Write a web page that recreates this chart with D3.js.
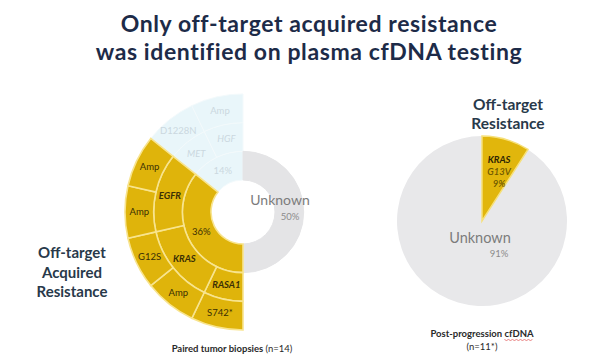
<!DOCTYPE html>
<html>
<head>
<meta charset="utf-8">
<script src="https://cdn.jsdelivr.net/npm/d3@7"></script>
<style>
  body { margin: 0; background: #fff; }
  svg { display: block; font-family: Lato, 'Open Sans', sans-serif; }
</style>
</head>
<body>
<svg id="chart" width="606" height="362"></svg>
<script>
const titleLines = ['Only off-target acquired resistance', 'was identified on plasma cfDNA testing'];

// paired tumor biopsies, n = 14
const groups = ['Unknown', 'Off-target', 'Other'];
const groupCounts = [7, 5, 2];
const groupLabels = ['50%', '36%', '14%'];

const genes = ['RASA1', 'KRAS', 'EGFR', 'MET', 'HGF'];
const geneGroups = ['Off-target', 'Off-target', 'Off-target', 'Other', 'Other'];

const alterations = ['S742*', 'Amp', 'G12S', 'Amp', 'Amp', 'D1228N', 'Amp'];
const alterationGenes = ['RASA1', 'KRAS', 'KRAS', 'EGFR', 'EGFR', 'MET', 'HGF'];
const alterationCounts = [1, 1, 1, 1, 1, 1, 1];

// post-progression cfDNA, n = 11
const cfLabels = ['KRAS G13V', 'Unknown'];
const cfCounts = [1, 10];
const cfPercents = ['9%', '91%'];

const svg = d3.select('#chart');

const groupColor = d3.scaleOrdinal()
  .domain(groups)
  .range(['#e4e4e6', '#dfb40b', '#e9f6fa']);
const strokeColor = d3.scaleOrdinal()
  .domain(groups)
  .range(['#e4e4e6', '#f8e48e', '#f3fafc']);
const textColor = d3.scaleOrdinal()
  .domain(groups)
  .range(['#808080', '#3a2f05', '#cbd8df']);

// title
svg.append('g')
  .selectAll('text')
  .data(titleLines)
  .enter()
  .append('text')
  .attr('x', 309)
  .attr('y', (d, i) => 32 + i * 27.6)
  .attr('text-anchor', 'middle')
  .style('font-size', '23px')
  .style('font-weight', '700')
  .style('letter-spacing', '0.6px')
  .style('fill', '#1d2b48')
  .text((d) => d);

// ---- sunburst (tumor biopsies)
const cx = 243, cy = 212;

const treeData = {
  name: 'root',
  children: groups.map((gname, gi) => {
    const kids = genes
      .filter((g, i) => geneGroups[i] === gname)
      .map((gene) => ({
        name: gene,
        group: gname,
        children: alterations
          .map((a, i) => ({ name: a, gene: alterationGenes[i], count: alterationCounts[i], group: gname }))
          .filter((a) => a.gene === gene)
      }));
    const node = { name: gname, group: gname, label: groupLabels[gi] };
    if (kids.length) node.children = kids;
    else node.count = groupCounts[gi];
    return node;
  })
};

const root = d3.hierarchy(treeData).sum((d) => (d.children ? 0 : d.count));
d3.partition().size([2 * Math.PI, 4])(root);

const rScale = d3.scaleLinear().domain([1, 4]).range([32, 118]);

const arc = d3.arc()
  .startAngle((d) => d.x0)
  .endAngle((d) => d.x1)
  .innerRadius((d) => rScale(d.y0))
  .outerRadius((d) => rScale(d.y1));

const sb = svg.append('g').attr('transform', `translate(${cx},${cy})`);

const nodes = root.descendants().filter((d) => d.depth > 0);
// pale wedge first, then grey, then yellow on top so its borders sit clean
const order = { Other: 0, Unknown: 1, 'Off-target': 2 };
nodes.sort((a, b) => order[a.data.group] - order[b.data.group]);

sb.selectAll('path')
  .data(nodes)
  .enter()
  .append('path')
  .attr('d', arc)
  .style('fill', (d) => groupColor(d.data.group))
  .style('stroke', (d) => strokeColor(d.data.group))
  .style('stroke-width', (d) => (d.data.group === 'Off-target' ? 1.6 : 1));

const labelled = nodes.filter((d) => d.data.group !== 'Unknown');
sb.selectAll('text.seg')
  .data(labelled)
  .enter()
  .append('text')
  .attr('class', 'seg')
  .attr('transform', (d) => {
    const [x, y] = arc.centroid(d);
    return `translate(${x},${y})`;
  })
  .attr('dy', '0.35em')
  .attr('text-anchor', 'middle')
  .style('font-size', '9.5px')
  .style('font-weight', (d) => (d.depth === 2 && d.data.group === 'Off-target' ? 700 : 400))
  .style('font-style', (d) => (d.depth === 2 ? 'italic' : 'normal'))
  .style('fill', (d) => textColor(d.data.group))
  .text((d) => (d.depth === 1 ? d.data.label : d.data.name));

const unk = nodes.find((d) => d.data.group === 'Unknown');
sb.append('text')
  .attr('x', 37)
  .attr('y', -7)
  .attr('text-anchor', 'middle')
  .style('font-size', '14px')
  .style('fill', '#7c7c7c')
  .text(unk.data.name);
sb.append('text')
  .attr('x', 47)
  .attr('y', 7.5)
  .attr('text-anchor', 'middle')
  .style('font-size', '9.5px')
  .style('fill', '#8c8c8c')
  .text(unk.data.label);

svg.append('text')
  .attr('x', 72)
  .attr('text-anchor', 'middle')
  .style('font-size', '15px')
  .style('font-weight', '700')
  .style('fill', '#28394a')
  .selectAll('tspan')
  .data(['Off-target', 'Acquired', 'Resistance'])
  .enter()
  .append('tspan')
  .attr('x', 72)
  .attr('y', (d, i) => 258 + i * 19.5)
  .text((d) => d);

const cap1 = svg.append('text')
  .attr('x', 232)
  .attr('y', 352)
  .attr('text-anchor', 'middle')
  .style('font-size', '9.5px')
  .style('fill', '#2a2a2a');
cap1.append('tspan').style('font-weight', '700').text('Paired tumor biopsies ');
cap1.append('tspan').text('(n=14)');

// ---- pie (cfDNA)
const px = 482, py = 221, pr = 85;
const pieData = d3.pie().sort(null).value((d) => d.count)(
  cfLabels.map((l, i) => ({ label: l, count: cfCounts[i], pct: cfPercents[i] }))
);
const pieArc = d3.arc().innerRadius(0).outerRadius(pr);
const pg = svg.append('g').attr('transform', `translate(${px},${py})`);

pg.selectAll('path')
  .data(pieData.slice().reverse())
  .enter()
  .append('path')
  .attr('d', pieArc)
  .style('fill', (d) => (d.index === 0 ? '#e1b60c' : '#e8e8ea'))
  .style('stroke', (d) => (d.index === 0 ? '#f6e07a' : '#e8e8ea'))
  .style('stroke-width', (d) => (d.index === 0 ? 1.5 : 0));

const wedge = pieData[0];
const [wx, wy] = d3.arc().innerRadius(0).outerRadius(100).centroid(wedge);
const wedgeLines = wedge.data.label.split(' ').concat([wedge.data.pct]);
pg.append('text')
  .attr('text-anchor', 'middle')
  .style('font-size', '9.5px')
  .style('font-style', 'italic')
  .selectAll('tspan')
  .data(wedgeLines)
  .enter()
  .append('tspan')
  .attr('x', wx + 3)
  .attr('y', (d, i) => wy - 14 + i * 12 + 3.5)
  .style('font-weight', (d, i) => (i === 0 ? 700 : 600))
  .style('fill', (d, i) => (i === 0 ? '#2e2503' : '#6e5800'))
  .text((d) => d);

const unkPie = pieData[1];
pg.append('text')
  .attr('x', -2)
  .attr('y', 22)
  .attr('text-anchor', 'middle')
  .style('font-size', '14.5px')
  .style('fill', '#7c7c7c')
  .text(unkPie.data.label);
pg.append('text')
  .attr('x', 17)
  .attr('y', 35.5)
  .attr('text-anchor', 'middle')
  .style('font-size', '9.5px')
  .style('fill', '#8c8c8c')
  .text(unkPie.data.pct);

svg.append('text')
  .attr('text-anchor', 'middle')
  .style('font-size', '15.5px')
  .style('font-weight', '700')
  .style('fill', '#28394a')
  .selectAll('tspan')
  .data(['Off-target', 'Resistance'])
  .enter()
  .append('tspan')
  .attr('x', 508)
  .attr('y', (d, i) => 110 + i * 19)
  .text((d) => d);

const cap2 = svg.append('text')
  .attr('text-anchor', 'middle')
  .style('font-size', '9.5px')
  .style('fill', '#2a2a2a');
cap2.append('tspan').attr('x', px).attr('y', 337).style('font-weight', '700').text('Post-progression cfDNA');
cap2.append('tspan').attr('x', px).attr('y', 350).text('(n=11*)');

// spell-check squiggle under "cfDNA"
const t = cap2.select('tspan').node();
const full = t.textContent;
const si = full.indexOf('cfDNA');
const x0 = t.getStartPositionOfChar(si).x;
const x1 = t.getEndPositionOfChar(full.length - 1).x;
const sq = d3.range(x0, x1, 2).map((x, i) => [x, 339.5 + (i % 2 ? 1 : 0)]);
svg.append('path')
  .attr('d', d3.line()(sq))
  .style('fill', 'none')
  .style('stroke', '#e05050')
  .style('stroke-width', 0.7);
</script>
</body>
</html>
